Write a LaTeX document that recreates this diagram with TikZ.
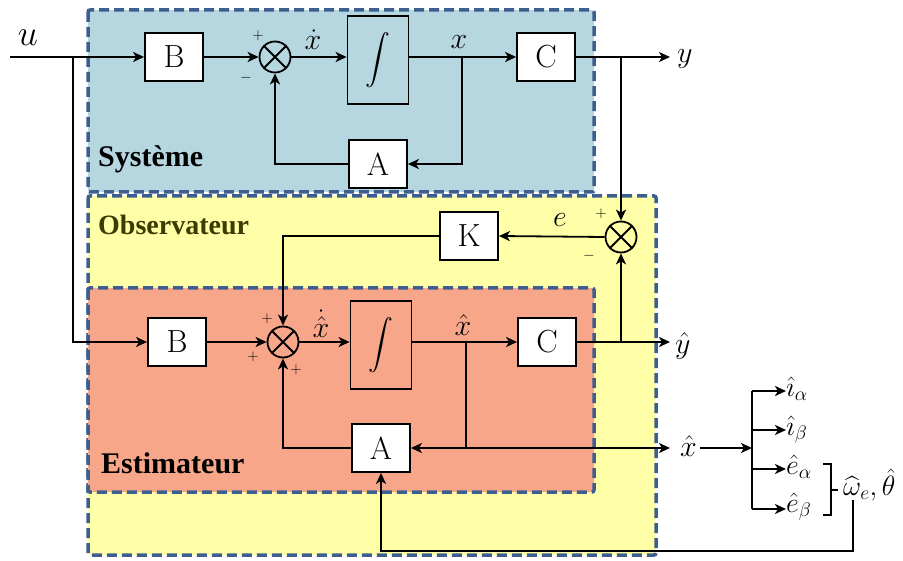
\RequirePackage{fix-cm}
\documentclass[tikz,border=0pt]{standalone}
\usepackage{exscale}
\usepackage{fontspec}
\newfontfamily\tnr{Liberation Serif}[BoldFont={Liberation Serif Bold}]
\usetikzlibrary{arrows.meta}
\definecolor{sysfill}{HTML}{B6D6E0}
\definecolor{obsfill}{HTML}{FFFFA8}
\definecolor{estfill}{HTML}{F8A68A}
\definecolor{framec}{HTML}{3D5F8F}
\definecolor{olivec}{HTML}{3B3B02}
\begin{document}
\begin{tikzpicture}[x=1pt,y=-1pt,
 wire/.style={line width=1.8pt},
 arr/.style={wire,-{Stealth[length=11pt,width=10pt,inset=3pt]}},
 blk/.style={draw,line width=1.8pt,fill=white,minimum width=58pt,minimum height=48pt,inner sep=0pt,font=\fontsize{32}{36}\selectfont},
 intg/.style={draw,line width=1.8pt,minimum width=61pt,minimum height=88pt,inner sep=0pt,font=\fontsize{24}{28}\selectfont},
 sumn/.style={draw,circle,line width=1.8pt,minimum size=31pt,inner sep=0pt},
 lbl/.style={font=\fontsize{30}{34}\selectfont,inner sep=0pt},
 lbs/.style={font=\fontsize{28}{32}\selectfont,inner sep=0pt,anchor=west},
 pm/.style={font=\fontsize{15}{18}\selectfont,inner sep=0pt},
 zone/.style={line width=3.5pt,draw=framec,dash pattern=on 10pt off 5pt,rounded corners=2pt},
 ttl/.style={font=\tnr\bfseries\fontsize{30}{34}\selectfont,anchor=base west,inner sep=0pt}]
\useasboundingbox (0,0) rectangle (903,561);
% zones
\path[zone,fill=obsfill] (88,196) rectangle (656,555);
\path[zone,fill=estfill] (88,288) rectangle (594,492);
\path[zone,fill=sysfill] (88,10) rectangle (594,192);
\node[ttl] (tsys) at (98,167) {Système};
\node[ttl,text=olivec,font=\tnr\bfseries\fontsize{28}{32}\selectfont] (tobs) at (98,235) {Observateur};
\node[ttl] (test) at (101,473) {Estimateur};
% system blocks
\node[blk] (B1) at (174,57) {B};
\node[sumn] (S1) at (275,57) {};
\node[intg] (I1) at (378,60) {$\displaystyle\int$};
\node[blk] (C1) at (546,57) {C};
\node[blk] (A1) at (378,164) {A};
% observer
\node[sumn] (S2) at (621,237) {};
\node[blk] (K) at (469,236) {K};
% estimator
\node[blk] (B2) at (177,342) {B};
\node[sumn] (S3) at (283,342) {};
\node[intg] (I2) at (381,345) {$\displaystyle\int$};
\node[blk] (C2) at (547,342) {C};
\node[blk] (A2) at (381,448) {A};
% crosses in summers
\foreach \s in {S1,S2,S3}{
  \draw[wire] (\s.45) -- (\s.225);
  \draw[wire] (\s.135) -- (\s.315);
}
% coordinates
\coordinate (uin) at (10,57);
\coordinate (uj) at (73,57);
\coordinate (xj) at (462,57);
\coordinate (yj) at (621,57);
\coordinate (yout) at (670,57);
\coordinate (xhj) at (466,342);
\coordinate (yhj) at (621,342);
\coordinate (yhout) at (670,342);
\coordinate (xhk) at (466,448);
\coordinate (xhout) at (670,448);
\coordinate (bt) at (752,391);
\coordinate (bb) at (752,509);
\coordinate (bm) at (752,448);
\coordinate (wl) at (853,500);
\coordinate (fb) at (853,551);
% labels
\node[lbl,font=\fontsize{36}{40}\selectfont] (lu) at (28,38) {$u$};
\node[lbl] (lxd) at (313,40) {$\dot x$};
\node[lbl] (lx) at (459,42) {$x$};
\node[lbl,anchor=west] (ly) at (677,59) {$y$};
\node[lbl] (le) at (560,220) {$e$};
\node[lbl] (lxhd) at (321,324) {$\dot{\hat x}$};
\node[lbl] (lxh) at (463,325) {$\hat x$};
\node[lbl,anchor=west] (lyh) at (675,346) {$\hat y$};
\node[lbl,anchor=west] (XH) at (680,446) {$\hat x$};
\node[lbs] (ia) at (786,389) {$\hat\imath_\alpha$};
\node[lbs] (ib) at (786,430) {$\hat\imath_\beta$};
\node[lbs] (ea) at (786,467) {$\hat e_\alpha$};
\node[lbs] (eb) at (786,507) {$\hat e_\beta$};
\node[lbs] (wt) at (843,485) {$\widehat\omega_e,\hat\theta$};
% plus / minus
\node[pm] (p1) at (258,36) {$+$};
\node[pm] (m1) at (246,78) {$-$};
\node[pm] (p2) at (601,214) {$+$};
\node[pm] (m2) at (589,256) {$-$};
\node[pm] (p3) at (267,319) {$+$};
\node[pm] (p4) at (253,357) {$+$};
\node[pm] (p5) at (296,370) {$+$};
% system wiring
\draw[wire] (uin) -- (uj);
\draw[arr] (uj) -- (B1.west);
\draw[arr] (uj) |- (B2.west);
\draw[arr] (B1.east) -- (S1.west);
\draw[arr] (S1.east) -- (S1.east -| I1.west);
\draw[arr] (I1.east |- C1.west) -- (C1.west);
\draw[arr] (xj) |- (A1.east);
\draw[arr] (A1.west) -| (S1.south);
\draw[arr] (C1.east) -- (yout);
\draw[arr] (yj) -- (S2.north);
% observer wiring
\draw[arr] (S2.west) -- (K.east);
\draw[arr] (K.west) -| (S3.north);
% estimator wiring
\draw[arr] (B2.east) -- (S3.west);
\draw[arr] (S3.east) -- (S3.east -| I2.west);
\draw[arr] (I2.east |- C2.west) -- (C2.west);
\draw[arr] (xhj) |- (A2.east);
\draw[arr] (A2.west) -| (S3.south);
\draw[arr] (C2.east) -- (yhout);
\draw[arr] (yhj) -- (S2.south);
\draw[arr] (xhk) -- (xhout);
% outputs
\draw[arr] ([xshift=3pt]XH.east |- bm) -- (bm);
\draw[wire] (bt) -- (bb);
\draw[arr] (bt) -- (bt -| ia.west);
\draw[arr] (bt |- 0,430) -- (ib.west |- 0,430);
\draw[arr] (bt |- 0,469) -- (ea.west |- 0,469);
\draw[arr] (bb) -- (eb.west |- bb);
\draw[wire] (823,464) -- (831,464) -- (831,515) -- (823,515);
\draw[wire] (831,490) -- (838,490);
\draw[arr] (wl) -- (fb) -| (A2.south);
\end{tikzpicture}
\end{document}
